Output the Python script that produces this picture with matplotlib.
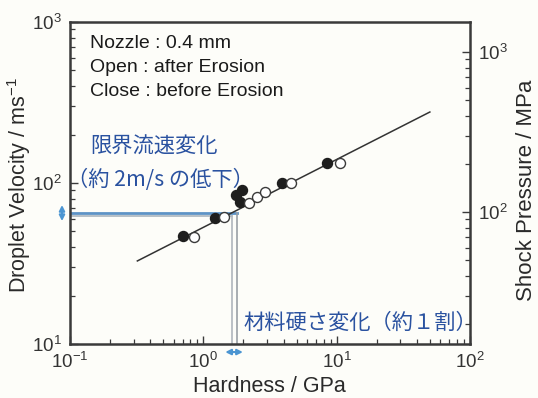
import numpy as np
import matplotlib
matplotlib.use("Agg")
import matplotlib.pyplot as plt
from matplotlib.ticker import LogLocator, NullFormatter

# data
filled_x = [0.70, 1.22, 1.76, 1.88, 1.95, 3.9, 8.5]
filled_y = [46.9, 60.7, 84.0, 76.0, 90.5, 100.0, 133.0]
open_x = [0.85, 1.43, 2.20, 2.53, 2.90, 4.55, 10.6]
open_y = [46.2, 61.5, 75.0, 82.0, 88.0, 100.0, 133.0]
fit_x = [0.32, 50.0]
fit_y = [32.8, 276.0]

v_crit = [65.0, 62.4]       # critical velocity lines (m/s)
h_crit = [1.79, 1.64]       # hardness lines (GPa)

info_lines = ["Nozzle : 0.4 mm", "Open : after Erosion", "Close : before Erosion"]

plt.rcParams['font.family'] = ['Liberation Sans', 'Noto Sans CJK JP', 'DejaVu Sans']
plt.rcParams['mathtext.default'] = 'regular'

dark = '#2a2a2a'
blue = '#2a52a0'
light_blue = '#4b95d2'

fig = plt.figure(figsize=(5.38, 3.98), dpi=100)
fig.set_facecolor('#fdfdf9')
ax = fig.add_axes([70 / 538, 1 - 344 / 398, 400 / 538, 322 / 398])
ax.set_facecolor('#fdfdf9')

ax.set_xscale('log')
ax.set_yscale('log')
ax.set_xlim(0.1, 100)
ax.set_ylim(10, 1000)

# fit line and points
ax.plot(fit_x, fit_y, color='#333333', lw=1.1, zorder=3)
ax.plot(filled_x, filled_y, 'o', ms=7.2, mfc='#1e1e1e', mec='#1e1e1e', mew=1.0, zorder=4)
ax.plot(open_x, open_y, 'o', ms=7.2, mfc='white', mec='#3a3a3a', mew=1.0, zorder=4)

# guide lines
ax.plot([0.1, h_crit[0]], [v_crit[0], v_crit[0]], color='#5d93c6', lw=2.0, zorder=2)
ax.plot([0.1, h_crit[1]], [v_crit[1], v_crit[1]], color='#a9b4be', lw=1.2, zorder=2)
ax.plot([h_crit[0], h_crit[0]], [10, v_crit[0]], color='#9aa0a6', lw=1.2, zorder=2)
ax.plot([h_crit[1], h_crit[1]], [10, v_crit[1]], color='#b0b6bc', lw=1.2, zorder=2)

# double arrows outside the axes
ax.annotate('', xy=(-0.02, 58), xytext=(-0.02, 73), xycoords=ax.get_yaxis_transform(),
            arrowprops=dict(arrowstyle='<|-|>', color=light_blue, lw=1.5,
                            mutation_scale=8, shrinkA=0, shrinkB=0), annotation_clip=False)
ax.annotate('', xy=(1.46, -0.025), xytext=(1.98, -0.025), xycoords=ax.get_xaxis_transform(),
            arrowprops=dict(arrowstyle='<|-|>', color=light_blue, lw=1.5,
                            mutation_scale=8, shrinkA=0, shrinkB=0), annotation_clip=False)

# spines and ticks
for s in ax.spines.values():
    s.set_color('#3a3a3a')
    s.set_linewidth(1.8)
ax.tick_params(which='both', direction='in', top=False, right=False, colors='#3a3a3a',
               labelcolor='#333333', labelsize=13.5)
ax.tick_params(which='major', length=6, width=1.0, pad=6)
ax.tick_params(which='minor', length=3.5, width=0.9)
ax.xaxis.set_major_locator(LogLocator(base=10, numticks=10))
ax.xaxis.set_minor_locator(LogLocator(base=10, subs=np.arange(2, 10), numticks=10))
ax.xaxis.set_minor_formatter(NullFormatter())
ax.yaxis.set_minor_formatter(NullFormatter())

# right axis: shock pressure
ax2 = ax.twinx()
ax2.set_yscale('log')
ax2.set_ylim(15, 1540)
ax2.yaxis.set_major_locator(LogLocator(base=10, numticks=10))
ax2.yaxis.set_minor_locator(LogLocator(base=10, subs=np.arange(2, 10), numticks=10))
ax2.yaxis.set_minor_formatter(NullFormatter())
ax2.tick_params(which='both', direction='in', colors='#3a3a3a', labelcolor='#333333',
                labelsize=13.5)
ax2.tick_params(which='major', length=6, width=1.0, pad=6)
ax2.tick_params(which='minor', length=3.5, width=0.9)
for s in ax2.spines.values():
    s.set_visible(False)

# axis labels
fig.text(19 / 538, 1 - 185 / 398, 'Droplet Velocity / ms$^{-1}$', rotation=90,
         ha='center', va='center', fontsize=15.5, color=dark)
fig.text(269 / 538, 1 - 387 / 398, 'Hardness / GPa', ha='center', va='center',
         fontsize=15.5, color=dark)
fig.text(526 / 538, 1 - 190 / 398, 'Shock Pressure / MPa', rotation=90,
         ha='center', va='center', fontsize=16, color=dark)

# annotation texts
for i, line in enumerate(info_lines):
    fig.text(90 / 538, 1 - (43 + 24 * i) / 398, line, ha='left', va='center',
             fontsize=14, color='#1a1a1a')

fig.text(90 / 538, 1 - 147 / 398, '限界流速変化', ha='left', va='center',
         fontsize=15.3, color=blue, family=['Noto Sans CJK JP', 'DejaVu Sans'])
fig.text(67 / 538, 1 - 180 / 398, '（約 2m/s の低下）', ha='left', va='center',
         fontsize=15.3, color=blue, family=['Noto Sans CJK JP', 'DejaVu Sans'])
fig.text(243 / 538, 1 - 323 / 398, '材料硬さ変化（約１割）', ha='left', va='center',
         fontsize=15.3, color=blue, family=['Noto Sans CJK JP', 'DejaVu Sans'])

fig.savefig('out.png', dpi=100, facecolor=fig.get_facecolor())
